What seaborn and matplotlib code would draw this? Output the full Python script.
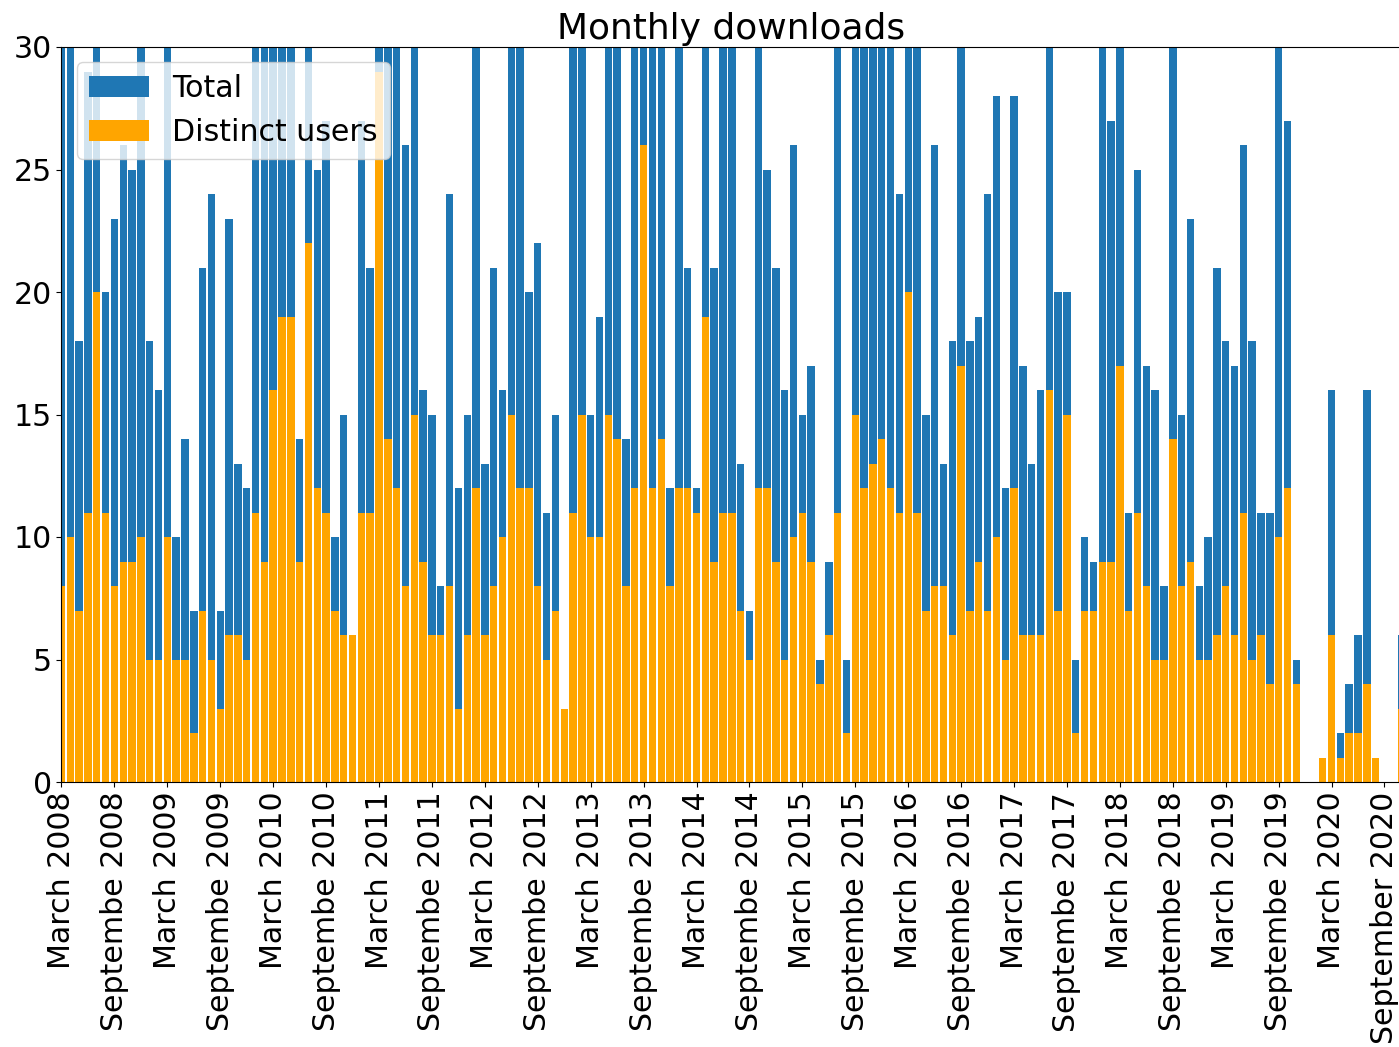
import numpy as np
import pandas as pd
import matplotlib
matplotlib.use("Agg")
import matplotlib.pyplot as plt
import seaborn as sns

# Monthly counts starting March 2008 (one entry per month)
total = [
    42, 38, 18, 29, 45, 20, 23, 26, 25, 36, 18, 16, 33, 10, 14, 7, 21, 24, 7, 23,
    13, 12, 40, 35, 48, 52, 44, 14, 55, 25, 27, 10, 15, 6, 27, 21, 60, 39, 34, 26,
    37, 16, 15, 8, 24, 12, 15, 33, 13, 21, 16, 35, 31, 20, 22, 11, 15, 3, 36, 41,
    15, 19, 38, 33, 14, 34, 58, 32, 37, 12, 31, 21, 12, 46, 21, 33, 32, 13, 7, 35,
    25, 21, 16, 26, 15, 17, 5, 9, 32, 5, 40, 36, 38, 43, 35, 24, 47, 31, 15, 26,
    13, 18, 40, 18, 19, 24, 28, 12, 28, 17, 13, 16, 39, 20, 20, 5, 10, 9, 31, 27,
    41, 11, 25, 17, 16, 8, 33, 15, 23, 8, 10, 21, 18, 17, 26, 18, 11, 11, 32, 27,
    5, 0, 0, 1, 16, 2, 4, 6, 16, 1, 0, 0, 6,
]
distinct = [
    8, 10, 7, 11, 20, 11, 8, 9, 9, 10, 5, 5, 10, 5, 5, 2, 7, 5, 3, 6,
    6, 5, 11, 9, 16, 19, 19, 9, 22, 12, 11, 7, 6, 6, 11, 11, 29, 14, 12, 8,
    15, 9, 6, 6, 8, 3, 6, 12, 6, 8, 10, 15, 12, 12, 8, 5, 7, 3, 11, 15,
    10, 10, 15, 14, 8, 12, 26, 12, 14, 8, 12, 12, 11, 19, 9, 11, 11, 7, 5, 12,
    12, 9, 5, 10, 11, 9, 4, 6, 11, 2, 15, 12, 13, 14, 12, 11, 20, 11, 7, 8,
    8, 6, 17, 7, 9, 7, 10, 5, 12, 6, 6, 6, 16, 7, 15, 2, 7, 7, 9, 9,
    17, 7, 11, 8, 5, 5, 14, 8, 9, 5, 5, 6, 8, 6, 11, 5, 6, 4, 10, 12,
    4, 0, 0, 1, 6, 1, 2, 2, 4, 1, 0, 0, 3,
]

tick_labels = [
    "March 2008", "Septembe 2008", "March 2009", "Septembe 2009",
    "March 2010", "Septembe 2010", "March 2011", "Septembe 2011",
    "March 2012", "Septembe 2012", "March 2013", "Septembe 2013",
    "March 2014", "Septembe 2014", "March 2015", "Septembe 2015",
    "March 2016", "Septembe 2016", "March 2017", "Septembe 2017",
    "March 2018", "Septembe 2018", "March 2019", "Septembe 2019",
    "March 2020", "September 2020",
]

months = pd.date_range("2008-03-01", periods=len(total), freq="MS").strftime("%Y-%m")
df = pd.DataFrame({"month": months, "total": total, "distinct": distinct})

FS = 21.6

fig = plt.figure(figsize=(13.99, 10.47), dpi=100)
ax = fig.add_axes([61.5 / 1399, 1 - 782 / 1047, 1338.5 / 1399, 735 / 1047])

sns.barplot(data=df, x="month", y="total", order=list(months), color="#1f77b4",
            saturation=1, width=0.84, errorbar=None, label="Total", ax=ax,
            linewidth=0)
sns.barplot(data=df, x="month", y="distinct", order=list(months), color="orange",
            saturation=1, width=0.84, errorbar=None, label="Distinct users", ax=ax,
            linewidth=0)

ax.set_xlim(0, 151.76)
ax.set_ylim(0, 30)
ax.set_xticks(np.arange(0, len(tick_labels) * 6, 6))
ax.set_xticklabels(tick_labels, rotation=90, fontsize=FS)
ax.set_yticks(np.arange(0, 31, 5))
ax.tick_params(axis="y", labelsize=FS)
ax.set_xlabel("")
ax.set_ylabel("")
ax.set_title("Monthly downloads", fontsize=FS * 1.2)
ax.legend(loc="upper left", fontsize=FS)

fig.savefig("out.png", dpi=100)
